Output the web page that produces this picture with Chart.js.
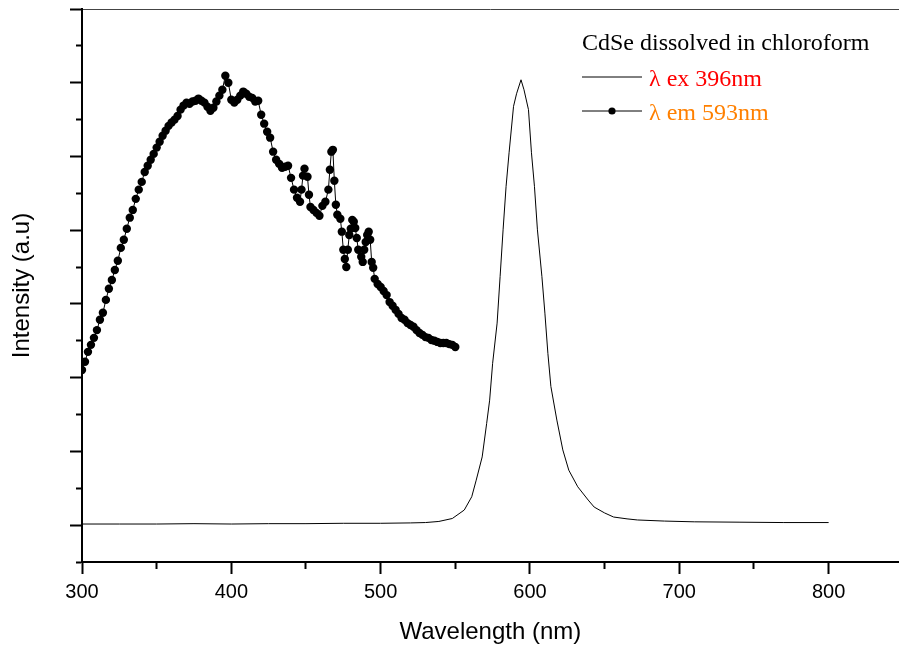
<!DOCTYPE html>
<html>
<head>
<meta charset="utf-8">
<script src="https://cdn.jsdelivr.net/npm/chart.js@4.4.0/dist/chart.umd.min.js"></script>
<style>
  html, body { margin: 0; padding: 0; background: #fff; }
  #wrap { width: 903px; height: 653px; }
</style>
</head>
<body>
<div id="wrap"><canvas id="spectra" width="903" height="653"></canvas></div>
<script>
// --- data (intensity in arbitrary units) ---
const exNm = [300, 325, 350, 375, 400, 425, 450, 475, 500, 520, 530, 539, 548, 556,
  561, 564, 568, 571, 573, 575, 578, 580, 582, 584, 586, 589, 591, 594, 596,
  599, 601, 603, 605, 608, 610, 612, 614, 618, 622, 626, 632, 639, 643, 650,
  656, 665, 672, 690, 710, 740, 770, 800];
const exVal = [0.03, 0.03, 0.03, 0.04, 0.03, 0.04, 0.04, 0.05, 0.05, 0.06, 0.07, 0.10, 0.18, 0.41,
  0.77, 1.22, 1.85, 2.76, 3.39, 4.39, 5.48, 6.74, 8.01, 9.19, 10.10, 11.36, 11.70, 12.08, 11.81,
  11.27, 10.10, 9.19, 8.01, 6.74, 5.75, 4.66, 3.76, 2.85, 2.04, 1.49, 1.04, 0.68, 0.49, 0.33,
  0.22, 0.17, 0.14, 0.11, 0.09, 0.08, 0.07, 0.07];

const emNm = [300, 302, 304, 306, 308, 310, 312, 314, 316, 318, 320, 322, 324, 326, 328,
  330, 332, 334, 336, 338, 340, 342, 344, 346, 348, 350, 352, 354, 356, 358,
  360, 362, 364, 366, 368, 370, 372, 374, 376, 378, 380, 382, 384, 386, 388,
  390, 392, 394, 396, 398, 400, 402, 404, 406, 408, 410, 412, 414, 416, 418,
  420, 422, 424, 426, 428, 430, 432, 434, 436, 438, 440, 442, 444, 446, 447,
  448, 449, 451, 452, 453, 455, 457, 459, 461, 463, 465, 466, 467, 468, 469,
  470, 471, 473, 474, 475, 476, 477, 478, 479, 480, 481, 482, 483, 484, 485,
  487, 488, 489, 490, 491, 492, 493, 494, 495, 496, 498, 500, 502, 504, 506,
  508, 510, 512, 514, 516, 518, 520, 522, 524, 526, 528, 530, 532, 534, 536,
  538, 540, 542, 544, 546, 548, 550];
const emVal = [4.21, 4.43, 4.70, 4.89, 5.08, 5.29, 5.57, 5.76, 6.11, 6.41, 6.65, 6.92, 7.17, 7.52, 7.74,
  8.04, 8.34, 8.55, 8.85, 9.10, 9.31, 9.58, 9.75, 9.91, 10.07, 10.24, 10.40, 10.56, 10.70, 10.83,
  10.92, 11.00, 11.10, 11.27, 11.38, 11.46, 11.43, 11.49, 11.51, 11.57, 11.51, 11.46, 11.35, 11.24, 11.32,
  11.49, 11.65, 11.81, 12.19, 12.00, 11.54, 11.46, 11.54, 11.65, 11.76, 11.70, 11.62, 11.59, 11.49, 11.51,
  11.13, 10.89, 10.67, 10.51, 10.13, 9.91, 9.80, 9.69, 9.72, 9.75, 9.42, 9.10, 8.88, 8.77, 9.10,
  9.48, 9.67, 9.45, 8.96, 8.63, 8.55, 8.47, 8.39, 8.66, 8.77, 9.10, 9.64, 10.13, 10.18, 9.34,
  8.69, 8.42, 8.31, 7.96, 7.47, 7.22, 7.00, 7.47, 7.87, 8.04, 8.28, 8.23, 8.06, 7.79, 7.47,
  7.28, 7.14, 7.47, 7.68, 7.87, 7.96, 7.74, 7.14, 6.98, 6.68, 6.54, 6.46, 6.35, 6.24, 6.05,
  5.95, 5.84, 5.73, 5.62, 5.57, 5.48, 5.43, 5.38, 5.29, 5.21, 5.16, 5.10, 5.08, 5.02, 5.00,
  4.97, 4.94, 4.94, 4.94, 4.91, 4.89, 4.83];

const xLabelled = [300, 400, 500, 600, 700, 800];
const legendTitle = 'CdSe dissolved in chloroform';
const seriesNames = ['λ ex 396nm', 'λ em 593nm'];
const seriesColors = ['#ff0000', '#ff8000'];

function toPoints(xs, ys) {
  return xs.map((x, i) => ({ x: x, y: ys[i] }));
}

// draws the legend box like the original (title + line samples)
const boxLegend = {
  id: 'boxLegend',
  afterDraw(chart) {
    const { ctx, chartArea } = chart;
    const x = chartArea.left + 500;
    const y = chartArea.top + 41;
    ctx.save();
    ctx.font = '24px "Liberation Serif"';
    ctx.textBaseline = 'alphabetic';
    ctx.fillStyle = '#000';
    ctx.fillText(legendTitle, x, y);
    chart.data.datasets.forEach((ds, i) => {
      const ly = y + 27 + i * 34;
      ctx.strokeStyle = ds.borderColor;
      ctx.lineWidth = ds.borderWidth;
      ctx.beginPath();
      ctx.moveTo(x, ly);
      ctx.lineTo(x + 60, ly);
      ctx.stroke();
      if (ds.pointRadius > 0) {
        ctx.fillStyle = ds.pointBackgroundColor;
        ctx.beginPath();
        ctx.arc(x + 30, ly, 3.6, 0, Math.PI * 2);
        ctx.fill();
      }
      ctx.fillStyle = seriesColors[i];
      ctx.fillText(seriesNames[i], x + 67, ly + 9);
    });
    ctx.restore();
  }
};

Chart.defaults.font.family = '"Liberation Sans", Arial, sans-serif';
Chart.defaults.color = '#000';

const ctx = document.getElementById('spectra').getContext('2d');
new Chart(ctx, {
  type: 'line',
  data: {
    datasets: [{
      label: seriesNames[0],
      data: toPoints(exNm, exVal),
      borderColor: '#000',
      borderWidth: 1,
      pointRadius: 0,
      tension: 0
    }, {
      label: seriesNames[1],
      data: toPoints(emNm, emVal),
      borderColor: '#000',
      borderWidth: 1,
      pointRadius: 4.2,
      pointBorderWidth: 0,
      pointBackgroundColor: '#000',
      tension: 0
    }]
  },
  options: {
    responsive: false,
    animation: false,
    layout: { padding: 0 },
    plugins: {
      legend: { display: false },
      tooltip: { enabled: false }
    },
    scales: {
      x: {
        type: 'linear',
        min: 300,
        max: 847,
        afterFit: s => { s.height = 91; },
        border: { display: true, color: '#000', width: 2 },
        grid: {
          drawOnChartArea: false,
          tickLength: 12,
          tickWidth: 2,
          tickColor: '#000',
          // labelled ticks long, the 50 nm ones half length
          tickBorderDash: c => xLabelled.includes(c.tick.value) ? [] : [6, 100]
        },
        ticks: {
          stepSize: 50,
          includeBounds: false,
          autoSkip: false,
          maxRotation: 0,
          padding: 6,
          font: { size: 20 },
          callback: v => xLabelled.includes(v) ? String(v) : ''
        },
        title: {
          display: true,
          text: 'Wavelength (nm)',
          font: { size: 24 },
          padding: { top: 0, bottom: 6 }
        }
      },
      xTop: {
        type: 'linear',
        position: 'top',
        min: 300,
        max: 847,
        afterFit: s => { s.height = 9; },
        border: { display: true, color: '#444', width: 1 },
        grid: { drawOnChartArea: false, drawTicks: false },
        ticks: { display: false }
      },
      y: {
        min: -1,
        max: 14,
        afterFit: s => { s.width = 82; },
        border: { display: true, color: '#000', width: 2 },
        grid: {
          drawOnChartArea: false,
          tickLength: 12,
          tickWidth: 2,
          tickColor: '#000',
          tickBorderDash: c => c.tick.value % 2 === 0 ? [] : [0, 6, 6, 100]
        },
        ticks: { stepSize: 1, display: false },
        title: {
          display: true,
          text: 'Intensity (a.u)',
          font: { size: 24 },
          padding: { top: 8, bottom: 0 }
        }
      }
    }
  },
  plugins: [boxLegend]
});
</script>
</body>
</html>
